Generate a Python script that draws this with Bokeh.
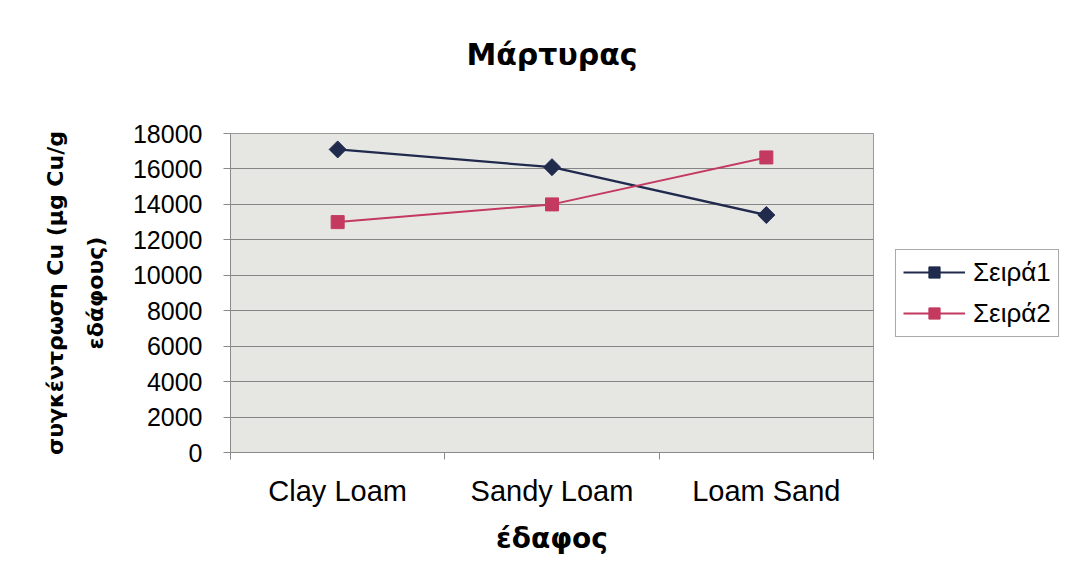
import math
from bokeh.plotting import figure
from bokeh.models import Range1d, FixedTicker, LinearAxis, Legend, LegendItem
from bokeh.embed import file_html
from bokeh.resources import INLINE

categories = ["Clay Loam", "Sandy Loam", "Loam Sand"]
series1 = [17100, 16100, 13400]
series2 = [13000, 14000, 16650]
series_names = ["Σειρά1", "Σειρά2"]
y_ticks = list(range(0, 18001, 2000))
title_text = "Μάρτυρας"
x_label = "έδαφος"
y_label_1 = "συγκέντρωση Cu (μg Cu/g"
y_label_2 = "εδάφους)"

FONT = "Liberation Sans"
BFONT = "DejaVu Sans"
xs = [i + 0.5 for i in range(len(categories))]

p = figure(frame_width=643, frame_height=319, output_backend="svg", toolbar_location=None,
           x_range=Range1d(0, len(categories)), y_range=Range1d(0, 18000),
           min_border_left=230, min_border_right=180, min_border_top=133, min_border_bottom=118,
           background_fill_color="#e6e6e3", border_fill_color="white")

p.outline_line_color = "#9a9a9a"
p.outline_line_width = 1

xa = p.below[0]
ya = p.left[0]

# title, drawn as the label of a bare axis above the plot area
ta = LinearAxis(ticker=FixedTicker(ticks=[]), axis_line_color=None,
                major_tick_line_color=None, minor_tick_line_color=None,
                major_label_text_font_size="0px",
                axis_label=title_text, axis_label_text_font=BFONT,
                axis_label_text_font_size="30px", axis_label_text_font_style="bold",
                axis_label_text_color="black", axis_label_standoff=62)
p.add_layout(ta, "above")

# x axis
xa.ticker = FixedTicker(ticks=xs, minor_ticks=list(range(len(categories) + 1)))
xa.major_label_overrides = {x: c for x, c in zip(xs, categories)}
xa.major_tick_out = 0
xa.major_tick_in = 0
xa.minor_tick_out = 7
xa.minor_tick_in = 0
xa.minor_tick_line_color = "#8a8a8a"
xa.axis_line_color = "#8a8a8a"
xa.major_label_text_font = FONT
xa.major_label_text_font_size = "29px"
xa.major_label_text_color = "black"
xa.major_label_standoff = 15
xa.axis_label = x_label
xa.axis_label_text_font = BFONT
xa.axis_label_text_font_size = "28px"
xa.axis_label_text_font_style = "bold"
xa.axis_label_text_color = "black"
xa.axis_label_standoff = 12

# y axis
ya.ticker = FixedTicker(ticks=y_ticks)
ya.major_tick_out = 7
ya.major_tick_in = 0
ya.minor_tick_line_color = None
ya.major_tick_line_color = "#8a8a8a"
ya.axis_line_color = "#8a8a8a"
ya.major_label_text_font = FONT
ya.major_label_text_font_size = "25px"
ya.major_label_text_color = "black"
ya.major_label_standoff = 21
ya.axis_label = y_label_2
ya.axis_label_text_font = BFONT
ya.axis_label_text_font_size = "22px"
ya.axis_label_text_font_style = "bold"
ya.axis_label_text_color = "black"
ya.axis_label_standoff = 22

ya2 = LinearAxis(ticker=FixedTicker(ticks=[]), axis_line_color=None,
                 major_tick_line_color=None, minor_tick_line_color=None,
                 major_label_text_font_size="0px",
                 axis_label=y_label_1, axis_label_text_font=BFONT,
                 axis_label_text_font_size="22px", axis_label_text_font_style="bold",
                 axis_label_text_color="black", axis_label_standoff=12)
p.add_layout(ya2, "left")

p.xgrid.grid_line_color = None
p.ygrid.ticker = FixedTicker(ticks=y_ticks)
p.ygrid.grid_line_color = "#858585"
p.ygrid.grid_line_width = 1

c1 = "#1f2a4d"
c2 = "#c4395f"
l1 = p.line(xs, series1, line_color=c1, line_width=2.2)
m1 = p.scatter(xs, series1, marker="square", size=12, angle=math.pi / 4,
               fill_color=c1, line_color=c1)
l2 = p.line(xs, series2, line_color=c2, line_width=2)
m2 = p.scatter(xs, series2, marker="square", size=13, fill_color=c2, line_color=c2)

legend = Legend(items=[LegendItem(label=series_names[0], renderers=[l1, m1]),
                       LegendItem(label=series_names[1], renderers=[l2, m2])],
                location="center_left", orientation="vertical",
                label_text_font=FONT, label_text_font_size="26px", label_text_color="black",
                glyph_width=62, glyph_height=28, spacing=10, padding=7, margin=22,
                label_standoff=8, border_line_color="#555555", border_line_width=1,
                background_fill_color="white", background_fill_alpha=1)
p.add_layout(legend, "right")

open("out.html", "w").write(file_html(p, INLINE))
